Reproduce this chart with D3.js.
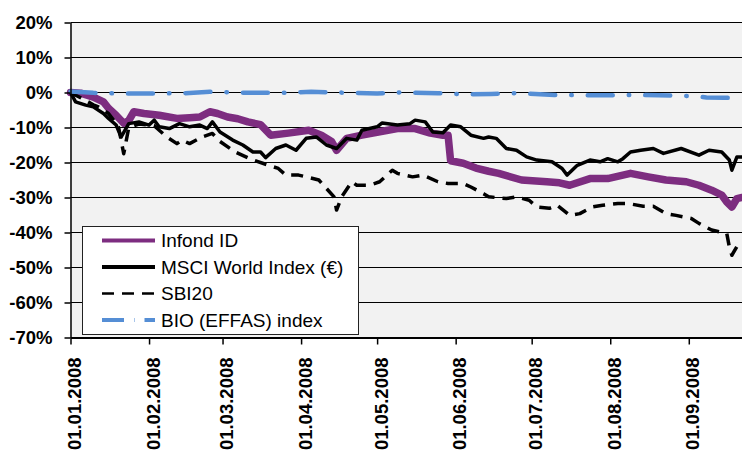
<!DOCTYPE html>
<html>
<head>
<meta charset="utf-8">
<script src="https://cdn.jsdelivr.net/npm/d3@7"></script>
<style>
  html, body { margin: 0; padding: 0; background: #fff; }
  svg { display: block; font-family: "Liberation Sans", Arial, sans-serif; }
</style>
</head>
<body>
<div id="chart"></div>
<script>
// ── Data (values in %) ──────────────────────────────────────────────────────

var seriesNames = ['Infond ID', 'MSCI World Index (\u20ac)', 'SBI20', 'BIO (EFFAS) index'];

var tickDates = ['2008-01-01', '2008-02-01', '2008-03-01', '2008-04-01', '2008-05-01',
                 '2008-06-01', '2008-07-01', '2008-08-01', '2008-09-01'];

var yTicks = [20, 10, 0, -10, -20, -30, -40, -50, -60, -70];

var infondValues = [
  ['2008-01-01', 0], ['2008-01-05', -0.2], ['2008-01-10', -1.3], ['2008-01-14', -2.7],
  ['2008-01-16', -4.5], ['2008-01-19', -6.5], ['2008-01-22', -8.8], ['2008-01-24', -8],
  ['2008-01-26', -5.5], ['2008-01-30', -6], ['2008-02-05', -6.5], ['2008-02-12', -7.4],
  ['2008-02-17', -7.2], ['2008-02-21', -7], ['2008-02-25', -5.5], ['2008-02-28', -6],
  ['2008-03-03', -7], ['2008-03-07', -7.5], ['2008-03-11', -8.4], ['2008-03-16', -9.2],
  ['2008-03-20', -12.2], ['2008-03-27', -11.6], ['2008-04-04', -10.8], ['2008-04-09', -12.2],
  ['2008-04-13', -14], ['2008-04-15', -16.5], ['2008-04-19', -13.1], ['2008-04-25', -12.2],
  ['2008-05-02', -11.2], ['2008-05-09', -10.3], ['2008-05-16', -10.3], ['2008-05-22', -11.6],
  ['2008-05-27', -12.2], ['2008-05-29', -12.2], ['2008-05-30', -19.5], ['2008-06-04', -20.2],
  ['2008-06-09', -21.6], ['2008-06-14', -22.5], ['2008-06-18', -23.1], ['2008-06-27', -25],
  ['2008-07-07', -25.5], ['2008-07-12', -25.8], ['2008-07-16', -26.5], ['2008-07-24', -24.6],
  ['2008-07-31', -24.6], ['2008-08-09', -23.1], ['2008-08-16', -24.1], ['2008-08-23', -25],
  ['2008-08-31', -25.5], ['2008-09-05', -26.5], ['2008-09-10', -27.9], ['2008-09-14', -29.3],
  ['2008-09-16', -31.3], ['2008-09-18', -32.7], ['2008-09-20', -30.3], ['2008-09-22', -30]
];

var msciValues = [
  ['2008-01-01', 0], ['2008-01-03', -2.7], ['2008-01-07', -3.6], ['2008-01-10', -4.1],
  ['2008-01-14', -6], ['2008-01-16', -7.4], ['2008-01-19', -9.3], ['2008-01-21', -12.7],
  ['2008-01-24', -8.9], ['2008-01-28', -8.4], ['2008-02-01', -9.3], ['2008-02-03', -7.9],
  ['2008-02-05', -9.8], ['2008-02-09', -10.3], ['2008-02-13', -8.9], ['2008-02-17', -9.8],
  ['2008-02-21', -9.3], ['2008-02-24', -10.3], ['2008-02-26', -8.4], ['2008-02-29', -11.3],
  ['2008-03-05', -13.6], ['2008-03-09', -15], ['2008-03-13', -17], ['2008-03-16', -17],
  ['2008-03-18', -18.6], ['2008-03-22', -16], ['2008-03-26', -15], ['2008-03-30', -16.5],
  ['2008-04-03', -13.1], ['2008-04-07', -12.7], ['2008-04-11', -15], ['2008-04-15', -16],
  ['2008-04-19', -13.1], ['2008-04-23', -13.6], ['2008-04-25', -10.8], ['2008-05-01', -9.8],
  ['2008-05-03', -8.7], ['2008-05-09', -9.3], ['2008-05-14', -8.9], ['2008-05-16', -7.9],
  ['2008-05-20', -8.4], ['2008-05-23', -11.3], ['2008-05-27', -11.5], ['2008-05-30', -9.3],
  ['2008-06-03', -9.8], ['2008-06-07', -12.2], ['2008-06-12', -13.1], ['2008-06-14', -12.7],
  ['2008-06-17', -13.1], ['2008-06-21', -16], ['2008-06-25', -16.5], ['2008-06-29', -18.4],
  ['2008-07-03', -19.3], ['2008-07-09', -19.8], ['2008-07-13', -21.7], ['2008-07-15', -23.6],
  ['2008-07-19', -20.8], ['2008-07-24', -19.3], ['2008-07-28', -19.8], ['2008-07-31', -18.9],
  ['2008-08-04', -19.8], ['2008-08-06', -18.9], ['2008-08-09', -17], ['2008-08-13', -16.5],
  ['2008-08-18', -16], ['2008-08-22', -17.4], ['2008-08-29', -16], ['2008-09-05', -17.9],
  ['2008-09-09', -16.5], ['2008-09-14', -17], ['2008-09-17', -19.3], ['2008-09-18', -22.2],
  ['2008-09-20', -18.4], ['2008-09-22', -18.4]
];

var sbiValues = [
  ['2008-01-01', 0], ['2008-01-05', -1.5], ['2008-01-10', -3.5], ['2008-01-12', -4.1],
  ['2008-01-16', -6], ['2008-01-18', -7.9], ['2008-01-20', -10], ['2008-01-22', -17.5],
  ['2008-01-24', -10], ['2008-01-28', -9], ['2008-02-03', -9.5], ['2008-02-08', -12.7],
  ['2008-02-12', -14.6], ['2008-02-14', -13.6], ['2008-02-17', -14.6], ['2008-02-22', -12.7],
  ['2008-02-26', -11.7], ['2008-02-29', -14], ['2008-03-06', -17], ['2008-03-12', -19],
  ['2008-03-18', -20.5], ['2008-03-23', -21.7], ['2008-03-26', -23.6], ['2008-03-31', -23.6],
  ['2008-04-03', -24.1], ['2008-04-08', -25], ['2008-04-11', -27.4], ['2008-04-14', -29.8],
  ['2008-04-15', -33.6], ['2008-04-17', -29.8], ['2008-04-21', -25.5], ['2008-04-23', -26.5],
  ['2008-04-28', -26.5], ['2008-05-02', -25.5], ['2008-05-07', -22.2], ['2008-05-09', -23.1],
  ['2008-05-15', -24.1], ['2008-05-19', -23.6], ['2008-05-25', -25.5], ['2008-05-29', -26],
  ['2008-06-04', -26], ['2008-06-07', -27], ['2008-06-12', -28.9], ['2008-06-14', -29.8],
  ['2008-06-21', -30.3], ['2008-06-25', -29.8], ['2008-06-30', -30.8], ['2008-07-03', -32.7],
  ['2008-07-08', -33.1], ['2008-07-11', -32.2], ['2008-07-16', -35.1], ['2008-07-20', -34.6],
  ['2008-07-25', -32.7], ['2008-07-29', -32.2], ['2008-08-04', -31.7], ['2008-08-08', -31.7],
  ['2008-08-14', -32.5], ['2008-08-18', -32.5], ['2008-08-23', -34.6], ['2008-08-27', -35.1],
  ['2008-09-02', -36], ['2008-09-05', -37.4], ['2008-09-10', -39.3], ['2008-09-16', -40.3],
  ['2008-09-17', -44.1], ['2008-09-18', -46.5], ['2008-09-20', -44], ['2008-09-22', -42.5]
];

var bioValues = [
  ['2008-01-01', 0.3], ['2008-01-10', -0.1], ['2008-01-20', -0.3], ['2008-02-01', -0.3],
  ['2008-02-15', -0.2], ['2008-02-25', 0.2], ['2008-03-10', -0.1], ['2008-03-25', -0.1],
  ['2008-04-05', 0.2], ['2008-04-15', 0], ['2008-05-01', -0.3], ['2008-05-10', 0],
  ['2008-05-25', -0.2], ['2008-06-05', -0.5], ['2008-06-15', -0.4], ['2008-06-25', -0.2],
  ['2008-07-10', -0.7], ['2008-07-25', -0.8], ['2008-08-10', -0.7], ['2008-08-20', -0.8],
  ['2008-09-01', -1.0], ['2008-09-08', -1.4], ['2008-09-15', -1.5], ['2008-09-19', -1.6],
  ['2008-09-22', -2.2]
];

// ── Visual helpers ─────────────────────────────────────────────────────────

var parseDate = d3.utcParse('%Y-%m-%d');

function toPoints(rows) {
  return rows.map(function(r) { return { date: parseDate(r[0]), value: r[1] }; });
}

var seriesStyles = [
  { color: '#7d2d80', width: 7.5, dash: null,           cap: 'round' },
  { color: '#000000', width: 3.5, dash: null,           cap: 'round' },
  { color: '#000000', width: 3.5, dash: '12,8',         cap: 'butt'  },
  { color: '#558ed5', width: 4.5, dash: '25,16,0.5,16', cap: 'round' }
];

// ── D3 rendering ──────────────────────────────────────────────────────────

function drawChart() {
  var width = 742, height = 453;
  var left = 70.5, right = 742, top = 22.5, bottom = 337.5;

  var series = [infondValues, msciValues, sbiValues, bioValues].map(toPoints);

  var svg = d3.select('#chart').append('svg')
    .attr('width', width)
    .attr('height', height);

  var x = d3.scaleUtc()
    .domain([parseDate('2008-01-01'), parseDate('2008-09-22')])
    .range([left, right]);

  var y = d3.scaleLinear()
    .domain([-70, 20])
    .range([bottom, top]);

  // plot background
  svg.append('rect')
    .attr('x', left).attr('y', top)
    .attr('width', right - left).attr('height', bottom - top)
    .attr('fill', '#f2f2f2');

  // horizontal gridlines
  svg.append('g')
    .selectAll('line')
    .data(yTicks.filter(function(t) { return t > -70; }))
    .join('line')
    .attr('x1', left).attr('x2', right)
    .attr('y1', function(d) { return y(d); })
    .attr('y2', function(d) { return y(d); })
    .attr('stroke', '#000')
    .attr('stroke-width', 1);

  // series lines
  var line = d3.line()
    .x(function(d) { return x(d.date); })
    .y(function(d) { return y(d.value); });

  svg.append('g')
    .selectAll('path')
    .data(series)
    .join('path')
    .attr('d', line)
    .attr('fill', 'none')
    .attr('stroke', function(d, i) { return seriesStyles[i].color; })
    .attr('stroke-width', function(d, i) { return seriesStyles[i].width; })
    .attr('stroke-dasharray', function(d, i) { return seriesStyles[i].dash; })
    .attr('stroke-linecap', function(d, i) { return seriesStyles[i].cap; })
    .attr('stroke-linejoin', 'round');

  // y axis
  var yAxis = svg.append('g')
    .attr('transform', 'translate(' + left + ',0)')
    .call(d3.axisLeft(y).tickValues(yTicks).tickSize(6).tickSizeOuter(0)
      .tickFormat(function(d) { return d + '%'; }));
  yAxis.select('.domain').attr('stroke', '#000').attr('stroke-width', 1.5);
  yAxis.selectAll('.tick line').attr('stroke', '#000').attr('stroke-width', 1.5);
  yAxis.selectAll('.tick text')
    .attr('x', -18)
    .attr('fill', '#000')
    .style('font-size', '18.5px')
    .style('font-weight', 'bold')
    .style('font-family', '"Liberation Sans", Arial, sans-serif');

  // x axis
  var xAxis = svg.append('g')
    .attr('transform', 'translate(0,' + bottom + ')')
    .call(d3.axisBottom(x).tickValues(tickDates.map(parseDate)).tickSize(7).tickSizeOuter(0)
      .tickFormat(d3.utcFormat('%d.%m.%Y')));
  xAxis.select('.domain').attr('stroke', '#000').attr('stroke-width', 2);
  xAxis.selectAll('.tick line').attr('stroke', '#000').attr('stroke-width', 1.5);
  xAxis.selectAll('.tick text')
    .attr('transform', 'rotate(-90)')
    .attr('text-anchor', 'end')
    .attr('x', -20)
    .attr('y', 0)
    .attr('dy', '0.55em')
    .attr('fill', '#000')
    .style('font-size', '18.5px')
    .style('font-weight', 'bold')
    .style('font-family', '"Liberation Sans", Arial, sans-serif');

  // legend
  var legend = svg.append('g');
  legend.append('rect')
    .attr('x', 82.5).attr('y', 226.5)
    .attr('width', 276).attr('height', 108)
    .attr('fill', '#fff')
    .attr('stroke', '#222')
    .attr('stroke-width', 1);

  var entryY = d3.scalePoint().domain(d3.range(seriesNames.length)).range([240.5, 320]);

  var entry = legend.selectAll('g.entry')
    .data(seriesNames)
    .join('g')
    .attr('class', 'entry')
    .attr('transform', function(d, i) { return 'translate(0,' + entryY(i) + ')'; });

  entry.append('line')
    .attr('x1', 102).attr('x2', 155)
    .attr('stroke', function(d, i) { return seriesStyles[i].color; })
    .attr('stroke-width', function(d, i) { return i === 2 ? 2.5 : 4; })
    .attr('stroke-dasharray', function(d, i) {
      return i === 3 ? '22,10,0.5,10' : seriesStyles[i].dash;
    })
    .attr('stroke-linecap', 'butt');

  entry.append('text')
    .attr('x', 161)
    .attr('dy', '0.35em')
    .attr('fill', '#000')
    .style('font-size', '19px')
    .text(function(d) { return d; });
}

document.addEventListener('DOMContentLoaded', drawChart);
</script>
</body>
</html>
